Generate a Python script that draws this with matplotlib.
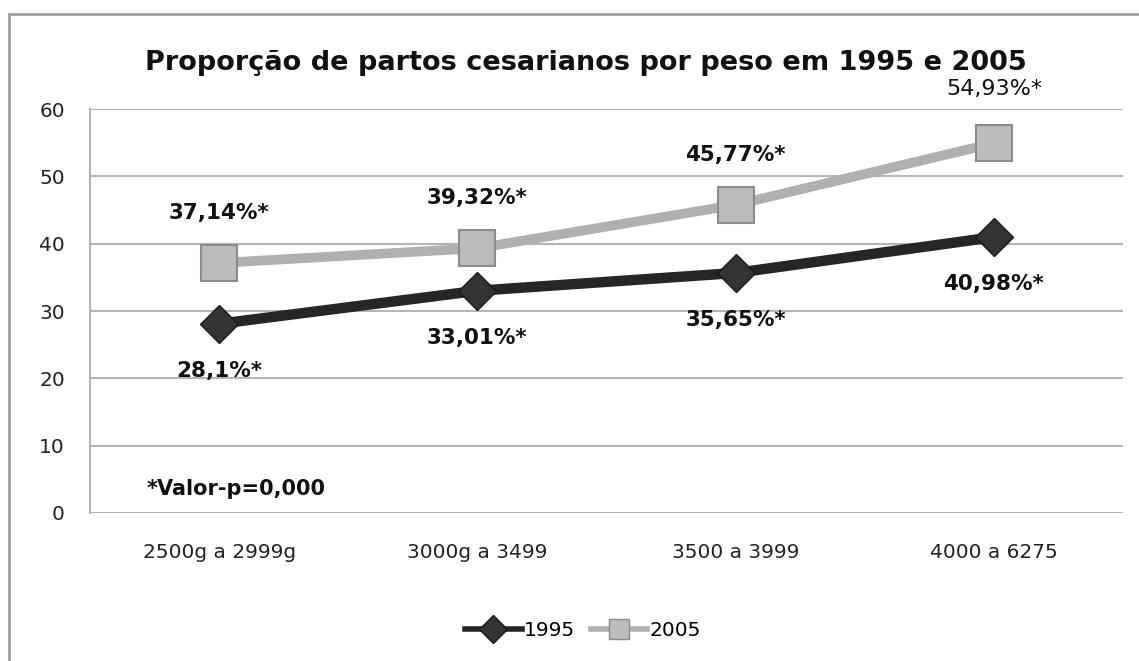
import matplotlib.pyplot as plt
from matplotlib.lines import Line2D
from matplotlib.patches import Rectangle

plt.rcParams['font.family'] = ['DejaVu Sans']

# data
categories = ['2500g a 2999g', '3000g a 3499', '3500 a 3999', '4000 a 6275']
v1995 = [28.1, 33.01, 35.65, 40.98]
v2005 = [37.14, 39.32, 45.77, 54.93]
lab1995 = ['28,1%*', '33,01%*', '35,65%*', '40,98%*']
lab2005 = ['37,14%*', '39,32%*', '45,77%*', '54,93%*']
yticks = [0, 10, 20, 30, 40, 50, 60]

fig = plt.figure(figsize=(11.39, 6.61), dpi=100)
ax = fig.add_axes([0.079, 0.224, 0.907, 0.611])

# outer chart border (only left/top visible in the reference)
fig.patches.append(Rectangle((9 / 1139, -0.05), 1.1, 1 - 14 / 661 + 0.05,
                             transform=fig.transFigure, fill=False,
                             edgecolor='#a0a0a0', lw=2))

x = list(range(len(categories)))
ax.plot(x, v2005, color='#b0b0b0', lw=7, marker='s', ms=26,
        mfc='#bcbcbc', mec='#8c8c8c', mew=1.5, zorder=3)
ax.plot(x, v1995, color='#262626', lw=7.5, marker='D', ms=19,
        mfc='#333333', mec='#1a1a1a', mew=1, zorder=4)

for i in x:
    # last 2005 label is in regular weight in the original
    if i == 3:
        ax.annotate(lab2005[i], (i, v2005[i]), xytext=(0, 39), textcoords='offset points',
                    ha='center', va='center', fontsize=16, color='#111111')
    else:
        ax.annotate(lab2005[i], (i, v2005[i]), xytext=(0, 36), textcoords='offset points',
                    ha='center', va='center', fontsize=15.5, fontweight='bold', color='#111111')
    ax.annotate(lab1995[i], (i, v1995[i]), xytext=(0, -34), textcoords='offset points',
                ha='center', va='center', fontsize=15.5, fontweight='bold', color='#111111')

ax.text(-0.28, 3.6, '*Valor-p=0,000', fontsize=15, fontweight='bold',
        color='#111111', va='center', ha='left')

ax.set_xlim(-0.5, 3.5)
ax.set_ylim(0, 60)
ax.set_yticks(yticks)
ax.set_xticks(x)
ax.set_xticklabels(categories)
ax.grid(axis='y', color='#b5b5b5', lw=1.5)
ax.set_axisbelow(True)
for s in ['top', 'right', 'bottom']:
    ax.spines[s].set_visible(False)
ax.spines['left'].set_color('#b5b5b5')
ax.spines['left'].set_linewidth(1.5)
ax.tick_params(length=0, labelsize=14.5, colors='#222222')
ax.tick_params(axis='y', pad=18)
ax.tick_params(axis='x', pad=22)

fig.text(586 / 1139, 1 - 63 / 661, 'Proporção de partos cesarianos por peso em 1995 e 2005',
         ha='center', va='center', fontsize=19.5, fontweight='bold', color='#111111')

handles = [Line2D([], [], color='#262626', lw=4, marker='D', ms=14, mfc='#333333', mec='#1a1a1a'),
           Line2D([], [], color='#b0b0b0', lw=4, marker='s', ms=14, mfc='#bcbcbc', mec='#8c8c8c')]
fig.legend(handles, ['1995', '2005'], loc='center', bbox_to_anchor=(583 / 1139, 1 - 631 / 661),
           ncol=2, frameon=False, fontsize=14.5, handlelength=2.8, handletextpad=0.1,
           columnspacing=0.8)

fig.savefig('out.png', dpi=100)
